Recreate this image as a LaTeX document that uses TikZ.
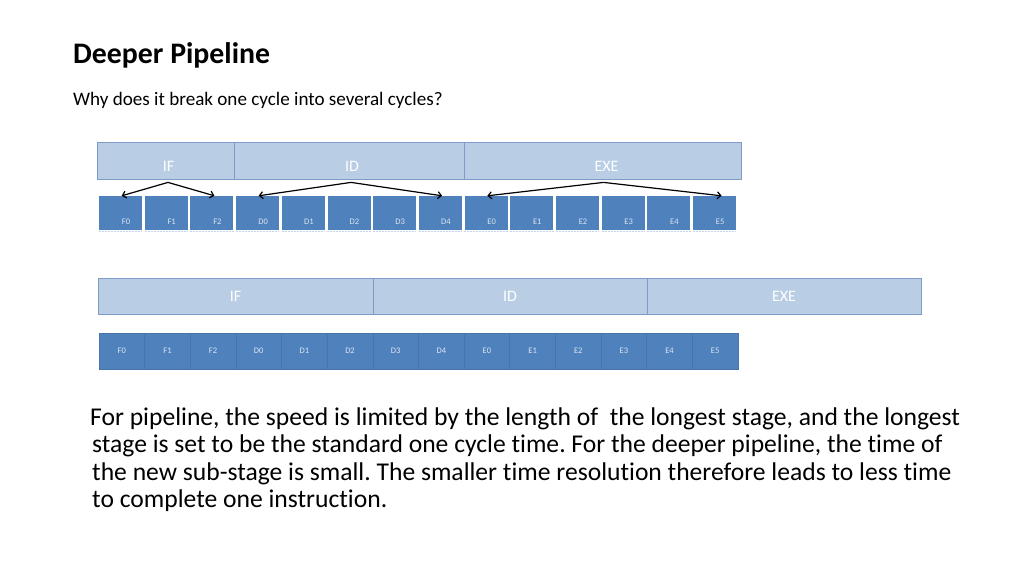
\documentclass[tikz,border=0pt]{standalone}
\usepackage{fontspec}
\setmainfont{Carlito}[Ligatures=NoCommon]
\usetikzlibrary{arrows.meta}
\definecolor{barfill}{HTML}{B9CDE5}
\definecolor{barline}{HTML}{7F9CC6}
\definecolor{boxfill}{HTML}{4F81BD}
\definecolor{boxline}{HTML}{4674AB}
\definecolor{boxtext}{HTML}{DCE6F2}
\definecolor{reflcol}{HTML}{C5D5EA}
\frenchspacing
\begin{document}
\begin{tikzpicture}[x=1pt,y=-1pt,
  bar/.style={draw=barline, line width=0.8pt, fill=barfill, inner sep=0pt},
  barlbl/.style={text=white, font=\fontsize{16}{18}\selectfont, inner sep=0pt},
  subbox/.style={fill=boxfill, minimum width=43pt, minimum height=34pt, inner sep=0pt},
  subbox2/.style={fill=boxfill, draw=boxline, line width=0.6pt, minimum width=45.64pt, minimum height=36pt, inner sep=0pt,
    text=boxtext, font=\fontsize{8.5}{10}\selectfont},
  sublbl/.style={text=boxtext, font=\fontsize{8.5}{10}\selectfont, inner sep=0pt},
  refl/.style={draw=reflcol, dashed, dash pattern=on 2pt off 1pt, line width=0.8pt},
  arr/.style={-{Straight Barb[length=3.5pt,width=7pt]}, line width=1.2pt, black},
  txt/.style={anchor=base west, inner sep=0pt}]
\useasboundingbox (0,0) rectangle (1024,576);

% titles
\node[txt, font=\fontsize{29.8}{34}\selectfont\bfseries] (title) at (73,63) {Deeper Pipeline};
\node[txt, font=\fontsize{19.1}{22}\selectfont] (subtitle) at (73,105) {Why does it break one cycle into several cycles?};

% row 1 bars
\node[bar, minimum width=137pt, minimum height=37pt, label={[barlbl,xshift=3pt,yshift=-6pt]center:IF}] (IF1) at (165.5,160.5) {};
\node[bar, minimum width=230pt, minimum height=37pt, label={[barlbl,xshift=3pt,yshift=-6pt]center:ID}] (ID1) at (349,160.5) {};
\node[bar, minimum width=277pt, minimum height=37pt, label={[barlbl,xshift=4pt,yshift=-6pt]center:EXE}] (EXE1) at (602.5,160.5) {};

% row 1 sub-stage boxes
\foreach \n [count=\i from 0] in {F0,F1,F2,D0,D1,D2,D3,D4,E0,E1,E2,E3,E4,E5}{
  \node[subbox, label={[sublbl,xshift=5.5pt,yshift=-9pt]center:\n}] (a\n) at ({120.5+45.7*\i},213) {};
  \draw[refl] ([yshift=-1.6pt]a\n.south west) -- ([yshift=-1.6pt]a\n.south east);
}

% arrows
\coordinate (pIF) at ([xshift=2.5pt,yshift=-3pt]IF1.south);
\coordinate (pID) at ([xshift=2pt,yshift=-3pt]ID1.south);
\coordinate (pEXE) at ([xshift=1pt,yshift=-3pt]EXE1.south);
\draw[arr] (pIF) -- ([xshift=1.2pt]aF0.north);
\draw[arr] (pIF) -- ([xshift=2.5pt]aF2.north);
\draw[arr] (pID) -- ([xshift=1pt]aD0.north);
\draw[arr] (pID) -- ([xshift=1.7pt]aD4.north);
\draw[arr] (pEXE) -- ([xshift=1.2pt]aE0.north);
\draw[arr] (pEXE) -- ([xshift=7pt]aE5.north);

% row 2 bars
\node[bar, minimum width=275pt, minimum height=36pt] (IF2) at (235.5,296) {};
\node[barlbl] (IF2t) at (IF2.center) {IF};
\node[bar, minimum width=274pt, minimum height=36pt] (ID2) at (510,296) {};
\node[barlbl] (ID2t) at (ID2.center) {ID};
\node[bar, minimum width=274pt, minimum height=36pt] (EXE2) at (784,296) {};
\node[barlbl] (EXE2t) at (EXE2.center) {EXE};

% row 2 contiguous boxes
\foreach \n [count=\i from 0] in {F0,F1,F2,D0,D1,D2,D3,D4,E0,E1,E2,E3,E4,E5}{
  \node[subbox2] (b\n) at ({121.82+45.64*\i},351) {\n};
}

% body text
\begin{scope}[font=\fontsize{25.6}{27.5}\selectfont]
\node[txt] (body1) at (90,425) {For pipeline, the speed is limited by the length of \ the longest stage, and the longest};
\node[txt] (body2) at (92,452.5) {stage is set to be the standard one cycle time. For the deeper pipeline, the time of};
\node[txt] (body3) at (92,480) {the new sub-stage is small. The smaller time resolution therefore leads to less time};
\node[txt] (body4) at (92,507.5) {to complete one instruction.};
\end{scope}
\end{tikzpicture}
\end{document}
